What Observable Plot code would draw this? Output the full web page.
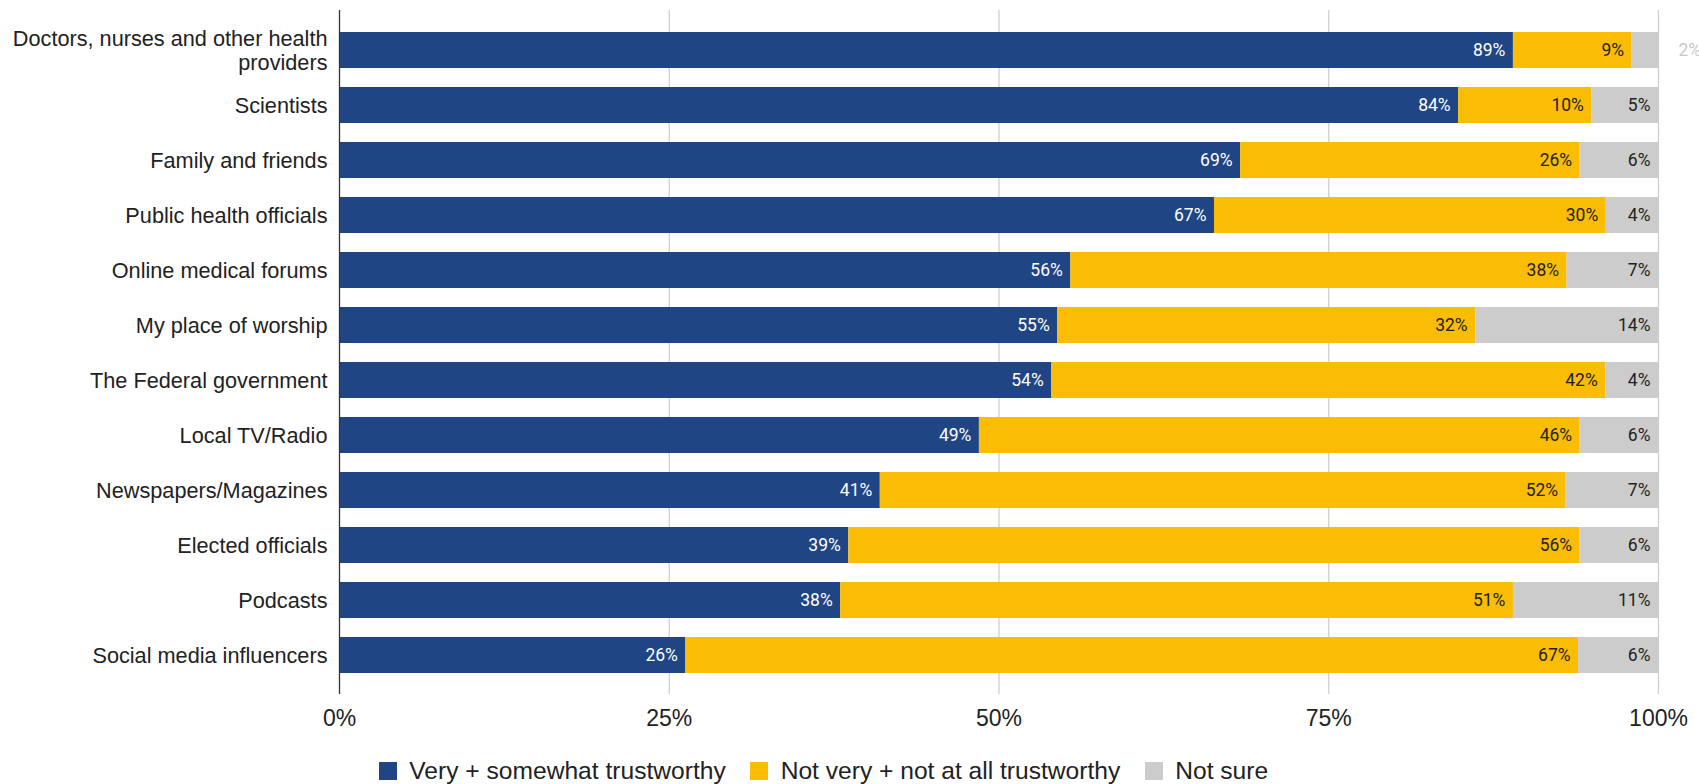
<!DOCTYPE html>
<html>
<head>
<meta charset="utf-8">
<script src="https://cdn.jsdelivr.net/npm/d3@7"></script>
<script src="https://cdn.jsdelivr.net/npm/@observablehq/plot@0.6"></script>
<style>
  html, body { margin: 0; padding: 0; background: #fff; }
  #chart { position: relative; width: 1699px; height: 784px; overflow: hidden; }
  #legend { position: absolute; left: 379px; top: 757px; }
</style>
</head>
<body>
<div id="chart"><div id="plot"></div><div id="legend"></div></div>
<script>
const categories = [
  "Doctors, nurses and other health providers",
  "Scientists",
  "Family and friends",
  "Public health officials",
  "Online medical forums",
  "My place of worship",
  "The Federal government",
  "Local TV/Radio",
  "Newspapers/Magazines",
  "Elected officials",
  "Podcasts",
  "Social media influencers"
];
const series = ["Very + somewhat trustworthy", "Not very + not at all trustworthy", "Not sure"];
const trustworthy    = [89, 84, 69, 67, 56, 55, 54, 49, 41, 39, 38, 26];
const notTrustworthy = [ 9, 10, 26, 30, 38, 32, 42, 46, 52, 56, 51, 67];
const notSure        = [ 2,  5,  6,  4,  7, 14,  4,  6,  7,  6, 11,  6];
const colors = ["#1f4585", "#fbbc04", "#cccccc"];
const xTicks = [0, 0.25, 0.5, 0.75, 1];
const outsideShare = 0.03;

const seriesValues = [trustworthy, notTrustworthy, notSure];
const data = [];
categories.forEach((cat, i) => {
  const total = seriesValues.reduce((s, arr) => s + arr[i], 0);
  series.forEach((s, j) => {
    data.push({cat, series: s, value: seriesValues[j][i], share: seriesValues[j][i] / total});
  });
});

function wrap(label, max = 34) {
  if (label.length <= max) return label;
  const cut = label.lastIndexOf(" ", max);
  return label.slice(0, cut) + "\n" + label.slice(cut + 1);
}

const stackOpts = {x: "value", y: "cat", z: "series", offset: "normalize"};
const labelFont = {fontFamily: "Roboto", fontSize: 17.5};

const chart = Plot.plot({
  width: 1699,
  height: 740,
  marginLeft: 339,
  marginRight: 41,
  marginTop: 10,
  marginBottom: 46,
  style: {fontFamily: "'Liberation Sans', Arial, sans-serif", color: "#222", background: "#fff"},
  x: {domain: [0, 1], label: null},
  y: {domain: categories, padding: 0.35, label: null},
  color: {domain: series, range: colors},
  marks: [
    Plot.ruleX(xTicks.slice(1), {stroke: "#cccccc", strokeWidth: 1.2}),
    Plot.barX(data, Plot.stackX({...stackOpts, fill: "series"})),
    Plot.ruleX([xTicks[0]], {stroke: "#333", strokeWidth: 1.3}),
    Plot.text(data, Plot.stackX2({
      ...stackOpts,
      text: d => d.series === series[0] && d.share >= outsideShare ? d.value + "%" : "",
      textAnchor: "end", dx: -8, fill: "white", ...labelFont
    })),
    Plot.text(data, Plot.stackX2({
      ...stackOpts,
      text: d => d.series !== series[0] && d.share >= outsideShare ? d.value + "%" : "",
      textAnchor: "end", dx: -8, fill: "#222", ...labelFont
    })),
    Plot.text(data, Plot.stackX2({
      ...stackOpts,
      text: d => d.share < outsideShare ? d.value + "%" : "",
      textAnchor: "start", dx: 20, fill: "#c8c8c8", ...labelFont
    })),
    Plot.axisY({tickSize: 0, tickPadding: 12, fontSize: 21.7, lineHeight: 1.08, fill: "#222",
      tickFormat: d => wrap(d), label: null}),
    Plot.axisX({ticks: xTicks, tickFormat: d => `${Math.round(d * 100)}%`, tickSize: 0,
      tickPadding: 15, fontSize: 23, fill: "#222", label: null})
  ]
});
document.getElementById("plot").appendChild(chart);

const legend = Plot.legend({
  color: {domain: series, range: colors, type: "ordinal"},
  swatchSize: 18,
  style: {fontFamily: "'Liberation Sans', Arial, sans-serif", fontSize: "24.6px", color: "#222",
    marginLeft: "0px", marginBottom: "0px", minHeight: "28px"}
});
document.getElementById("legend").appendChild(legend);
</script>
</body>
</html>
